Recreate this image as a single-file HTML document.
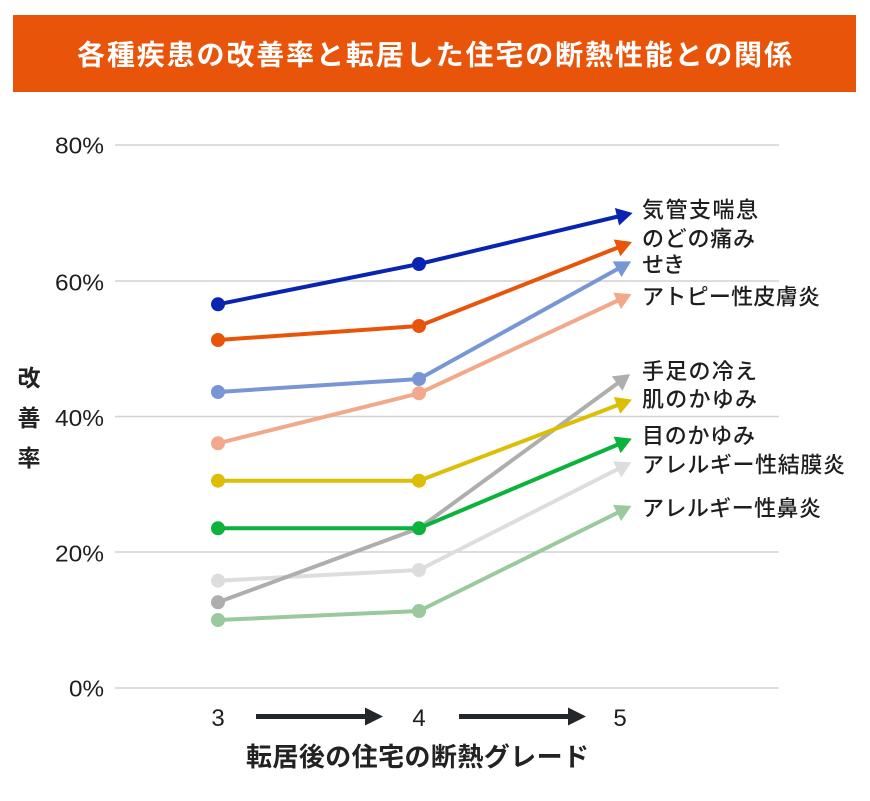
<!DOCTYPE html>
<html>
<head>
<meta charset="utf-8">
<style>
html,body{margin:0;padding:0;background:#fff;}
svg{display:block;}
.jp{font-family:"Liberation Sans","Noto Sans CJK JP",sans-serif;}
</style>
</head>
<body>
<svg width="870" height="801" viewBox="0 0 870 801" xmlns="http://www.w3.org/2000/svg">
<defs>
  <marker id="m1" viewBox="0 -9 15 18" refX="0" refY="0" markerWidth="15" markerHeight="18" markerUnits="userSpaceOnUse" orient="auto" overflow="visible"><path d="M-1,-9L15,0L-1,9z" fill="#0A24B2"/></marker>
  <marker id="m2" viewBox="0 -9 15 18" refX="0" refY="0" markerWidth="15" markerHeight="18" markerUnits="userSpaceOnUse" orient="auto" overflow="visible"><path d="M-1,-9L15,0L-1,9z" fill="#E8540A"/></marker>
  <marker id="m3" viewBox="0 -9 15 18" refX="0" refY="0" markerWidth="15" markerHeight="18" markerUnits="userSpaceOnUse" orient="auto" overflow="visible"><path d="M-1,-9L15,0L-1,9z" fill="#7896D5"/></marker>
  <marker id="m4" viewBox="0 -9 15 18" refX="0" refY="0" markerWidth="15" markerHeight="18" markerUnits="userSpaceOnUse" orient="auto" overflow="visible"><path d="M-1,-9L15,0L-1,9z" fill="#F2A98B"/></marker>
  <marker id="m5" viewBox="0 -9 15 18" refX="0" refY="0" markerWidth="15" markerHeight="18" markerUnits="userSpaceOnUse" orient="auto" overflow="visible"><path d="M-1,-9L15,0L-1,9z" fill="#AEAEAE"/></marker>
  <marker id="m6" viewBox="0 -9 15 18" refX="0" refY="0" markerWidth="15" markerHeight="18" markerUnits="userSpaceOnUse" orient="auto" overflow="visible"><path d="M-1,-9L15,0L-1,9z" fill="#DCBE06"/></marker>
  <marker id="m7" viewBox="0 -9 15 18" refX="0" refY="0" markerWidth="15" markerHeight="18" markerUnits="userSpaceOnUse" orient="auto" overflow="visible"><path d="M-1,-9L15,0L-1,9z" fill="#0BB23C"/></marker>
  <marker id="m8" viewBox="0 -9 15 18" refX="0" refY="0" markerWidth="15" markerHeight="18" markerUnits="userSpaceOnUse" orient="auto" overflow="visible"><path d="M-1,-9L15,0L-1,9z" fill="#DDDDDD"/></marker>
  <marker id="m9" viewBox="0 -9 15 18" refX="0" refY="0" markerWidth="15" markerHeight="18" markerUnits="userSpaceOnUse" orient="auto" overflow="visible"><path d="M-1,-9L15,0L-1,9z" fill="#99C99D"/></marker>
</defs>

<!-- Title bar -->
<rect x="13" y="15" width="843" height="77" fill="#E8540A"/>
<text class="jp" x="77" y="55" text-anchor="start" dominant-baseline="central" font-size="28" font-weight="bold" fill="#ffffff" textLength="715" lengthAdjust="spacing">各種疾患の改善率と転居した住宅の断熱性能との関係</text>

<!-- Grid -->
<g stroke="#D2D2D2" stroke-width="1.5">
  <line x1="115" y1="145" x2="779" y2="145"/>
  <line x1="115" y1="281" x2="779" y2="281"/>
  <line x1="115" y1="416.5" x2="779" y2="416.5"/>
  <line x1="115" y1="552" x2="779" y2="552"/>
  <line x1="115" y1="688" x2="779" y2="688"/>
</g>

<!-- Y tick labels -->
<g class="jp" font-size="23" fill="#1e1e1e" text-anchor="end">
  <text x="104" y="153.5" textLength="49" lengthAdjust="spacingAndGlyphs">80%</text>
  <text x="104" y="290.5" textLength="49" lengthAdjust="spacingAndGlyphs">60%</text>
  <text x="104" y="426" textLength="49" lengthAdjust="spacingAndGlyphs">40%</text>
  <text x="104" y="561.5" textLength="49" lengthAdjust="spacingAndGlyphs">20%</text>
  <text x="104" y="696.5" textLength="35" lengthAdjust="spacingAndGlyphs">0%</text>
</g>

<!-- Y axis title -->
<g class="jp" font-size="23" font-weight="bold" fill="#222" text-anchor="middle">
  <text x="29" y="378" dominant-baseline="central">改</text>
  <text x="29" y="418" dominant-baseline="central">善</text>
  <text x="29" y="458" dominant-baseline="central">率</text>
</g>

<!-- Series -->
<g fill="none" stroke-width="4" stroke-linejoin="round">
  <polyline points="218,620 419,611 618,512.5" stroke="#99C99D" marker-end="url(#m9)"/>
  <polyline points="218,580.7 419,570 618,469" stroke="#DDDDDD" marker-end="url(#m8)"/>
  <polyline points="218,602.3 419,528.3 618,383" stroke="#AEAEAE" marker-end="url(#m5)"/>
  <polyline points="218,480.7 419,480.7 618,405" stroke="#DCBE06" marker-end="url(#m6)"/>
  <polyline points="218,528.3 419,528.3 618,444.5" stroke="#0BB23C" marker-end="url(#m7)"/>
  <polyline points="218,443.3 419,393.3 618,300.5" stroke="#F2A98B" marker-end="url(#m4)"/>
  <polyline points="218,392 419,379 618,268.7" stroke="#7896D5" marker-end="url(#m3)"/>
  <polyline points="218,340 419,326 618,247.5" stroke="#E8540A" marker-end="url(#m2)"/>
  <polyline points="218,304.3 419,264 618,216.5" stroke="#0A24B2" marker-end="url(#m1)"/>
</g>

<!-- Dots -->
<g>
  <circle cx="218" cy="620" r="7" fill="#99C99D"/><circle cx="419" cy="611" r="7" fill="#99C99D"/>
  <circle cx="218" cy="580.7" r="7" fill="#DDDDDD"/><circle cx="419" cy="570" r="7" fill="#DDDDDD"/>
  <circle cx="218" cy="602.3" r="7" fill="#AEAEAE"/>
  <circle cx="218" cy="480.7" r="7" fill="#DCBE06"/><circle cx="419" cy="480.7" r="7" fill="#DCBE06"/>
  <circle cx="218" cy="528.3" r="7" fill="#0BB23C"/><circle cx="419" cy="528.3" r="7" fill="#0BB23C"/>
  <circle cx="218" cy="443.3" r="7" fill="#F2A98B"/><circle cx="419" cy="393.3" r="7" fill="#F2A98B"/>
  <circle cx="218" cy="392" r="7" fill="#7896D5"/><circle cx="419" cy="379" r="7" fill="#7896D5"/>
  <circle cx="218" cy="340" r="7" fill="#E8540A"/><circle cx="419" cy="326" r="7" fill="#E8540A"/>
  <circle cx="218" cy="304.3" r="7" fill="#0A24B2"/><circle cx="419" cy="264" r="7" fill="#0A24B2"/>
</g>

<!-- Series labels -->
<g class="jp" font-size="22" font-weight="500" fill="#1e1e1e">
  <text x="642" y="210" dominant-baseline="central" textLength="116" lengthAdjust="spacing">気管支喘息</text>
  <text x="642" y="239" dominant-baseline="central" textLength="113" lengthAdjust="spacing">のどの痛み</text>
  <text x="642" y="265" dominant-baseline="central" textLength="43" lengthAdjust="spacing">せき</text>
  <text x="642" y="297" dominant-baseline="central" textLength="178" lengthAdjust="spacing">アトピー性皮膚炎</text>
  <text x="642" y="371.7" dominant-baseline="central" textLength="115" lengthAdjust="spacing">手足の冷え</text>
  <text x="642" y="399.3" dominant-baseline="central" textLength="115" lengthAdjust="spacing">肌のかゆみ</text>
  <text x="642" y="436" dominant-baseline="central" textLength="113" lengthAdjust="spacing">目のかゆみ</text>
  <text x="642" y="465" dominant-baseline="central" textLength="203" lengthAdjust="spacing">アレルギー性結膜炎</text>
  <text x="642" y="508.3" dominant-baseline="central" textLength="179" lengthAdjust="spacing">アレルギー性鼻炎</text>
</g>

<!-- X ticks -->
<g class="jp" font-size="24" fill="#1e1e1e" text-anchor="middle">
  <text x="218" y="726">3</text>
  <text x="419" y="726">4</text>
  <text x="620" y="726">5</text>
</g>

<!-- X arrows -->
<g fill="#24272A" stroke="#24272A">
  <line x1="256" y1="716.5" x2="367" y2="716.5" stroke-width="5"/>
  <polygon points="365,707.5 383,716.5 365,725.5" stroke="none"/>
  <line x1="459" y1="716.5" x2="570" y2="716.5" stroke-width="5"/>
  <polygon points="568,707.5 586,716.5 568,725.5" stroke="none"/>
</g>

<!-- X axis title -->
<text class="jp" x="246" y="757" text-anchor="start" dominant-baseline="central" font-size="26" font-weight="bold" fill="#222" textLength="343" lengthAdjust="spacing">転居後の住宅の断熱グレード</text>
</svg>
</body>
</html>
